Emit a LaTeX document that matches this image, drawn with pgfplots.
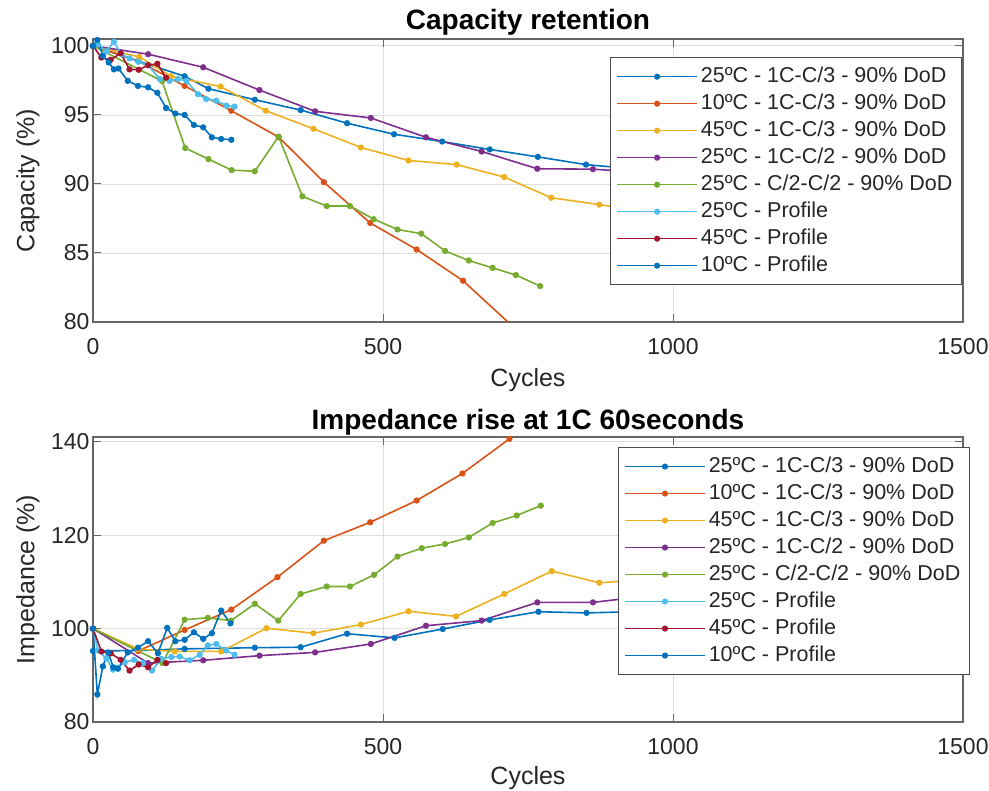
\documentclass[border=0pt]{standalone}
\usepackage{pgfplots}
\pgfplotsset{compat=1.18}
\usepackage{fontspec}
\setmainfont{Liberation Sans}
\definecolor{c1}{rgb}{0,0.447,0.741}
\definecolor{c2}{rgb}{0.85,0.325,0.098}
\definecolor{c3}{rgb}{0.929,0.694,0.125}
\definecolor{c4}{rgb}{0.494,0.184,0.556}
\definecolor{c5}{rgb}{0.466,0.674,0.188}
\definecolor{c6}{rgb}{0.301,0.745,0.933}
\definecolor{c7}{rgb}{0.635,0.078,0.184}
\definecolor{axc}{rgb}{0.15,0.15,0.15}
\pgfplotsset{
 mstyle/.style={
   scale only axis, width=870pt,
   xmin=0,xmax=1500, xtick={0,500,1000,1500},
   grid=major, major grid style={black!13, line width=0.8pt},
   axis line style={black!60, line width=1.2pt},
   tick style={black!60, line width=1pt}, tick align=inside, major tick length=8pt,
   ticklabel style={font=\fontsize{23}{23}\selectfont, text=axc},
   /pgf/number format/assume math mode=true,
   /pgf/number format/1000 sep={},
   label style={font=\fontsize{25}{25}\selectfont, text=axc},
   title style={font=\bfseries\fontsize{28}{28}\selectfont},
   every axis plot/.append style={line width=1.6pt, mark=*, mark size=2.3pt},
   legend cell align=left,
   legend style={font=\fontsize{21.5}{21.5}\selectfont, draw=black!70, fill=white, anchor=north east, inner xsep=6pt, inner ysep=5.5pt, row sep=0pt, nodes={inner sep=3pt, text height=16pt, text depth=5pt}, text=axc},
   legend image code/.code={\draw[mark repeat=2,mark phase=2,#1,line width=1.5pt] plot coordinates {(0pt,0pt)(40pt,0pt)(80pt,0pt)};},
   xticklabel style={yshift=-13pt},
   xlabel={Cycles},
   ylabel style={at={(axis description cs:-0.0747,0.5)}, anchor=center},
 }
}
\begin{document}
\begin{tikzpicture}
\path[use as bounding box] (0,0) rectangle (989pt,791pt);
% ---------------- Capacity ----------------
\begin{axis}[mstyle, at={(93pt,469pt)}, anchor=south west, height=283pt,
  ymin=80, ymax=100.5, ytick={80,85,90,95,100},
  ylabel={Capacity (\%)},
  title={Capacity retention},
  title style={at={(axis description cs:0.5,1.037)}, anchor=center},
  xlabel style={at={(axis description cs:0.5,-0.205)}, anchor=center},
  legend style={at={(axis description cs:0.9989,0.936)}, line width=1.2pt}]
\addplot[c1] coordinates {(0,100)(78,98.9)(158,97.8)(199,96.9)(279,96.1)(358,95.35)(438,94.4)(519,93.6)(602,93.07)(684,92.5)(767,91.96)(850,91.4)(930,91.1)(1010,90.7)};
\addlegendentry{25ºC - 1C-C/3 - 90\% DoD}
\addplot[c2] coordinates {(0,100)(78,98.9)(158,97.1)(238.5,95.3)(320,93.4)(398,90.13)(478,87.17)(558,85.25)(638,82.99)(718,79.9)};
\addlegendentry{10ºC - 1C-C/3 - 90\% DoD}
\addplot[c3] coordinates {(0,100)(80,99.2)(135,97.8)(220,97.05)(298,95.3)(380,94.0)(462,92.64)(544,91.7)(627,91.4)(709,90.5)(790,89.0)(873,88.5)(955,88.0)(1037,87.5)};
\addlegendentry{45ºC - 1C-C/3 - 90\% DoD}
\addplot[c4] coordinates {(0,100)(95,99.4)(190,98.45)(287,96.8)(383,95.26)(479,94.78)(574,93.38)(670,92.35)(766,91.1)(862,91.07)(958,90.8)};
\addlegendentry{25ºC - 1C-C/2 - 90\% DoD}
\addplot[c5] coordinates {(0,100)(119,97.45)(159,92.6)(199,91.8)(239,91.0)(279,90.92)(320,93.43)(361,89.1)(403,88.4)(443,88.4)(484,87.45)(525,86.7)(566,86.4)(607,85.15)(648,84.45)(689,83.92)(729,83.4)(771,82.6)};
\addlegendentry{25ºC - C/2-C/2 - 90\% DoD}
\addplot[c6] coordinates {(0,100)(8.6,100.1)(23,99.6)(36,100.3)(49,99.4)(63,99.1)(78,98.85)(95,98.6)(115,97.6)(132,97.47)(146.5,97.6)(161,97.47)(181,96.5)(195,96.15)(212.6,96.03)(230,95.67)(244,95.6)};
\addlegendentry{25ºC - Profile}
\addplot[c7] coordinates {(0,100)(14.4,99.16)(30.5,98.99)(47.7,99.47)(63,98.3)(78.7,98.27)(95,98.6)(111,98.7)(126,97.7)};
\addlegendentry{45ºC - Profile}
\addplot[c1] coordinates {(0,100)(7.5,100.43)(17,99.28)(27,98.8)(36,98.3)(44,98.36)(60,97.47)(77.6,97.1)(95,97.0)(111,96.6)(126,95.5)(142,95.1)(158,95.0)(174,94.27)(190,94.1)(205,93.38)(221,93.26)(238.5,93.2)};
\addlegendentry{10ºC - Profile}
\end{axis}
% ---------------- Impedance ----------------
\begin{axis}[mstyle, at={(93pt,69pt)}, anchor=south west, height=285pt,
  ymin=80, ymax=141, ytick={80,100,120,140},
  ylabel={Impedance (\%)},
  title={Impedance rise at 1C 60seconds},
  title style={at={(axis description cs:0.5,1.03)}, anchor=center},
  xlabel style={at={(axis description cs:0.5,-0.197)}, anchor=center},
  legend style={at={(axis description cs:1.008,0.965)}, line width=1.2pt}]
\addplot[c1] coordinates {(0,95.2)(78,95.3)(158,95.65)(279,95.9)(358,96.0)(438,98.9)(520,98.0)(603,99.9)(684,101.85)(768,103.6)(851,103.35)(930,103.6)(1010,104)};
\addlegendentry{25ºC - 1C-C/3 - 90\% DoD}
\addplot[c2] coordinates {(0,100)(78,95.2)(158,99.7)(238.5,104.06)(318,111.0)(398,118.8)(478,122.75)(558,127.4)(637,133.2)(718,140.6)};
\addlegendentry{10ºC - 1C-C/3 - 90\% DoD}
\addplot[c3] coordinates {(0,100)(78,95.6)(141,95.1)(221,95.1)(299,100.07)(380,99.0)(462,100.86)(544,103.7)(626,102.6)(709,107.4)(791,112.3)(873,109.8)(955,110.5)(1037,111)};
\addlegendentry{45ºC - 1C-C/3 - 90\% DoD}
\addplot[c4] coordinates {(0,100)(95,92.6)(190,93.2)(287,94.2)(383,94.9)(479,96.7)(574,100.6)(670,101.7)(766,105.6)(862,105.6)(958,107)};
\addlegendentry{25ºC - 1C-C/2 - 90\% DoD}
\addplot[c5] coordinates {(0,100)(120,92.6)(158,101.9)(198,102.3)(238,101.7)(279,105.3)(319.5,101.7)(358,107.4)(403,109.0)(443,109.0)(484.5,111.5)(525,115.4)(566.7,117.2)(607,118.1)(648,119.5)(689,122.6)(730.5,124.2)(772,126.3)};
\addlegendentry{25ºC - C/2-C/2 - 90\% DoD}
\addplot[c6] coordinates {(0,100)(8.6,95.3)(23,93.6)(34.5,91.2)(42,91.6)(55,92.8)(70.7,93.3)(86,92.6)(101.7,91.0)(117.8,93.5)(135,93.9)(149.4,94.0)(166.7,93.2)(184,94.4)(198,96.4)(212.6,96.7)(229.8,95.3)(244,94.4)};
\addlegendentry{25ºC - Profile}
\addplot[c7] coordinates {(0,100)(14.4,95.1)(30.5,94.7)(47.7,93.3)(63,91.0)(78.7,92.3)(95,91.7)(111,93.3)(126,92.6)};
\addlegendentry{45ºC - Profile}
\addplot[c1] coordinates {(0,100)(7.5,85.9)(17,91.9)(26,94.9)(35,91.7)(43,91.4)(60,94.9)(77.6,95.9)(95,97.3)(112,94.7)(128,100.15)(142,97.3)(158,97.6)(174,99.2)(190,97.8)(205,99.0)(221,103.85)(237,101.1)};
\addlegendentry{10ºC - Profile}
\end{axis}
\end{tikzpicture}
\end{document}
